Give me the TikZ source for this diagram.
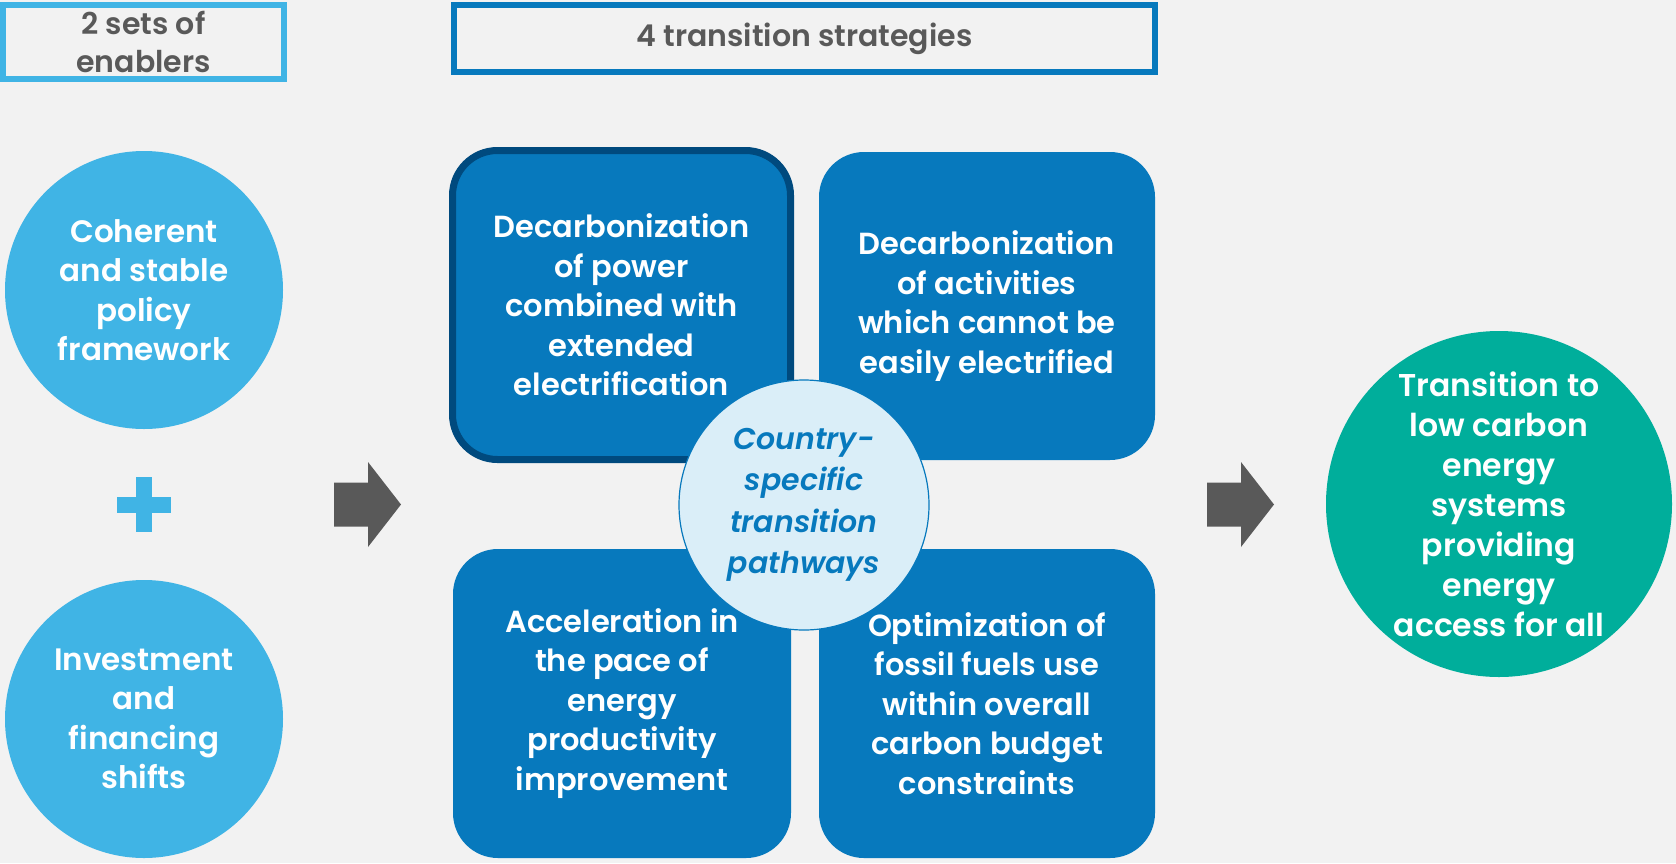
\documentclass[tikz,border=0pt]{standalone}
\usepackage{fontspec}
\setmainfont{Poppins}[BoldFont={Poppins SemiBold}, BoldItalicFont={Poppins SemiBold Italic}]
\usetikzlibrary{positioning}
\definecolor{bgc}{HTML}{F2F2F2}
\definecolor{lblue}{HTML}{40B4E5}
\definecolor{mblue}{HTML}{0779BD}
\definecolor{dblue}{HTML}{004A7E}
\definecolor{pale}{HTML}{DAEEF8}
\definecolor{teal}{HTML}{00AE9B}
\definecolor{gtext}{HTML}{595959}
\tikzset{
  hdr/.style={draw, line width=6pt, fill=bgc, text=gtext, align=center, inner sep=0pt,
    font=\fontsize{30}{38}\selectfont\bfseries},
  enabler/.style={circle, fill=lblue, text=white, align=center, inner sep=0pt,
    minimum size=278pt, font=\fontsize{31}{39.5}\selectfont\bfseries},
  strat/.style={rectangle, rounded corners=45pt, fill=mblue, text=white, align=center,
    inner sep=0pt, font=\fontsize{30.5}{39.5}\selectfont\bfseries},
  hub/.style={circle, fill=pale, draw=mblue, line width=1.2pt, text=mblue, align=center,
    inner sep=0pt, minimum size=250pt, font=\fontsize{30}{41.5}\selectfont\bfseries\itshape},
  goal/.style={circle, fill=teal, text=white, align=center, inner sep=0pt,
    minimum size=346pt, font=\fontsize{31.5}{40}\selectfont\bfseries},
  blockarrow/.style={fill=gtext},
}
\begin{document}
\begin{tikzpicture}[x=1pt, y=-1pt]
\fill[bgc] (0,0) rectangle (1676,863);
\useasboundingbox (0,0) rectangle (1676,863);

% headers
\node[hdr, draw=lblue, minimum width=281pt, minimum height=74pt] (hA) at (143.5,42) {2 sets of\\enablers};
\node[hdr, draw=mblue, minimum width=701pt, minimum height=67pt] (hB) at (804.5,38.5) {4 transition strategies};

% enablers
\node[enabler] (e1) at (144,290) {Coherent\\and stable\\policy\\framework};
\node[enabler] (e2) at (144,719) {Investment\\and\\financing\\shifts};
% plus
\fill[lblue] (136,477) rectangle (152,532);
\fill[lblue] (117,496.5) rectangle (171,512.5);

% strategies
\node[strat, minimum width=338pt, minimum height=309pt, draw=dblue, line width=7pt] (s1) at (621.5,305) {Decarbonization\\of power\\combined with\\extended\\electrification};
\node[strat, minimum width=336pt, minimum height=308pt] (s2) at (987,306) {Decarbonization\\of activities\\which cannot be\\easily electrified};
\node[strat, minimum width=338pt, minimum height=309pt] (s3) at (622,703.5) {Acceleration in\\the pace of\\energy\\productivity\\improvement};
\node[strat, minimum width=336pt, minimum height=309pt] (s4) at (987,703.5) {Optimization of\\fossil fuels use\\within overall\\carbon budget\\constraints};

% hub
\node[hub] (hub) at (804,505) {Country-\\specific\\transition\\pathways};

% goal
\node[goal] (goal) at (1499,504) {Transition to\\low carbon\\energy\\systems\\providing\\energy\\access for all};

% block arrows
\coordinate (a1) at (334,504.5);
\coordinate (a2) at (1207,504.5);
\foreach \c in {a1,a2}{
  \fill[blockarrow] (\c) ++(0,-22) -- ++(34,0) -- ++(0,-20.5) -- ++(33,42.5) -- ++(-33,42.5) -- ++(0,-20.5) -- ++(-34,0) -- cycle;
}
\end{tikzpicture}
\end{document}
